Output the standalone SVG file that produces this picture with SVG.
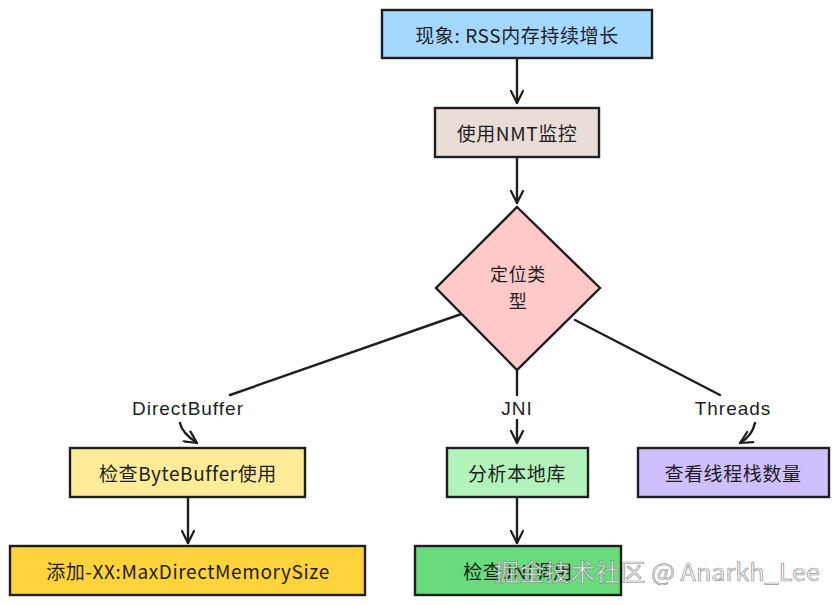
<svg xmlns="http://www.w3.org/2000/svg" width="837" height="605" viewBox="0 0 837 605">
<defs>
<marker id="arr" viewBox="0 0 14 14" refX="13" refY="7" markerWidth="14" markerHeight="14" markerUnits="userSpaceOnUse" orient="auto">
<path d="M1,1 L13,7 L1,13" fill="none" stroke="#1e1e1e" stroke-width="2.2" stroke-linecap="round" stroke-linejoin="round"/>
</marker>
</defs>
<style>
.box{stroke:#1e1e1e;stroke-width:2.4}
.t{font-family:"Noto Sans CJK SC","Liberation Sans",sans-serif;font-size:19px;fill:#1e1e1e;text-anchor:middle;dominant-baseline:central;letter-spacing:0.6px}
.d{font-size:18px}
.lbl{font-family:"Liberation Sans","Noto Sans CJK SC",sans-serif;font-size:19px;fill:#1e1e1e;text-anchor:middle;dominant-baseline:central;letter-spacing:1px}
.c{fill:none;stroke:#1e1e1e;stroke-width:2.4;stroke-linecap:round}
.wm{font-family:"Noto Sans CJK SC","Liberation Sans",sans-serif;font-size:24px;fill:#f4f4f4;fill-opacity:0.9;stroke:#777;stroke-width:0.7;stroke-opacity:0.8}
</style>
<rect width="837" height="605" fill="#ffffff"/>
<g id="connectors">
<path class="c" d="M517,58 L517,103" marker-end="url(#arr)"/>
<path class="c" d="M517,157 L517,203" marker-end="url(#arr)"/>
<path class="c" d="M470,311 L230,395"/>
<path class="c" d="M180,423 Q182,433 197,443" marker-end="url(#arr)"/>
<path class="c" d="M517,370 L517,395"/>
<path class="c" d="M517,420 L517,443" marker-end="url(#arr)"/>
<path class="c" d="M575,320 L720,395"/>
<path class="c" d="M755,423 Q752,436 740,443" marker-end="url(#arr)"/>
<path class="c" d="M188,497 L188,543" marker-end="url(#arr)"/>
<path class="c" d="M517,497 L517,543" marker-end="url(#arr)"/>
<text class="lbl" x="188" y="408">DirectBuffer</text>
<text class="lbl" x="517" y="408">JNI</text>
<text class="lbl" x="733" y="408">Threads</text>
</g>
<g id="n1">
<rect class="box" x="382" y="10" width="270" height="48" fill="#a5d8ff"/>
<text class="t" x="517" y="34">现象: RSS内存持续增长</text>
</g>
<g id="n2">
<rect class="box" x="435" y="108" width="164" height="49" fill="#eaddd7"/>
<text class="t" x="517" y="132">使用NMT监控</text>
</g>
<g id="n3">
<path class="box" d="M517,207 L600,288 L517,370 L436,288 Z" fill="#ffc9c9"/>
<text class="t d" x="518" y="273">定位类</text>
<text class="t d" x="518" y="300">型</text>
</g>
<g id="n4">
<rect class="box" x="70" y="448" width="235" height="49" fill="#ffec99"/>
<text class="t" x="188" y="472">检查ByteBuffer使用</text>
</g>
<g id="n5">
<rect class="box" x="10" y="546" width="355" height="49" fill="#ffd43b"/>
<text class="t" x="188" y="570">添加-XX:MaxDirectMemorySize</text>
</g>
<g id="n6">
<rect class="box" x="447" y="448" width="141" height="49" fill="#b2f2bb"/>
<text class="t" x="517" y="472">分析本地库</text>
</g>
<g id="n7">
<rect class="box" x="415" y="546" width="206" height="49" fill="#69db7c"/>
<text class="t" x="518" y="570">检查JNI调用</text>
</g>
<g id="n8">
<rect class="box" x="638" y="448" width="191" height="49" fill="#d0bfff"/>
<text class="t" x="733" y="472">查看线程栈数量</text>
</g>
<text class="wm" x="494" y="581" textLength="326" lengthAdjust="spacingAndGlyphs">掘金技术社区 @ Anarkh_Lee</text>
</svg>
